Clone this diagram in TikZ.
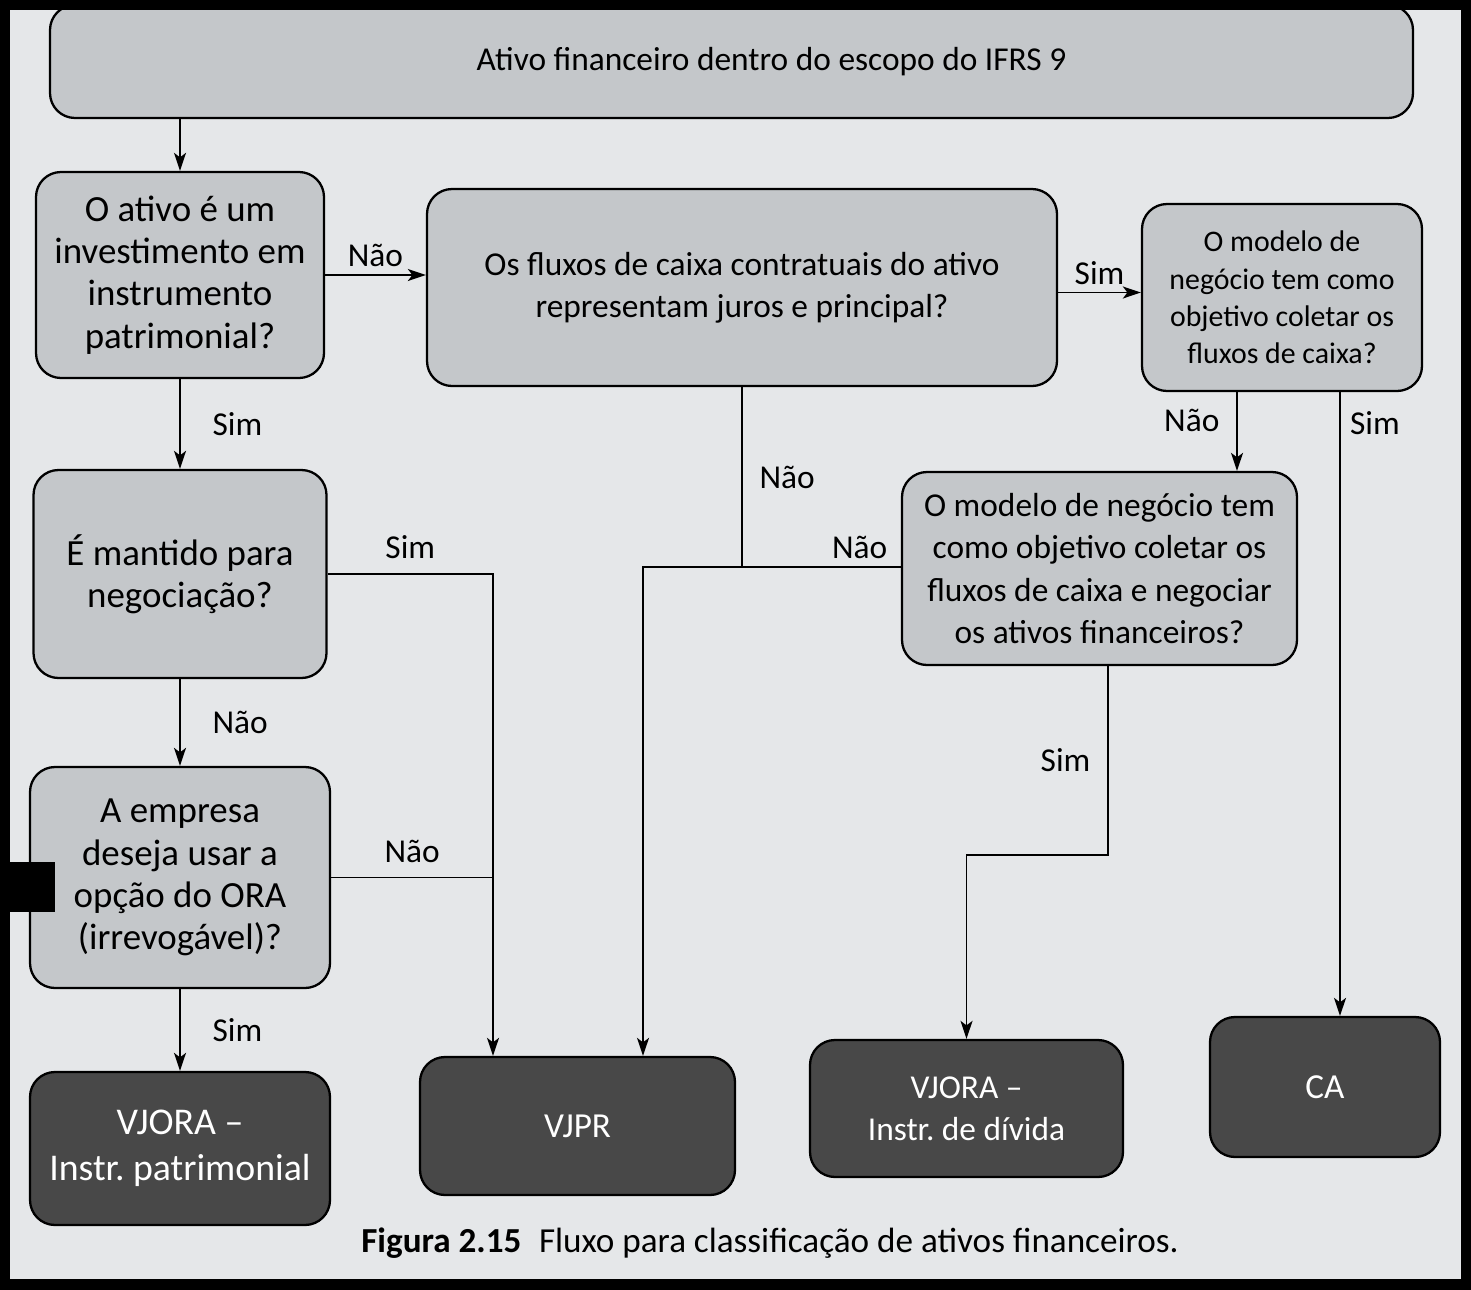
\documentclass[tikz,border=0pt]{standalone}
\usepackage{fontspec}
\setmainfont{Carlito}
\usetikzlibrary{calc,positioning,arrows.meta,shapes}
\definecolor{papel}{RGB}{229,231,233}
\definecolor{caixa}{RGB}{196,199,202}
\definecolor{escuro}{RGB}{72,72,72}
\tikzset{
  >={Stealth[length=3.6mm, width=2.4mm, inset=0.9mm]},
  pergunta/.style={
    rectangle,
    rounded corners=0.5cm,
    fill=caixa,
    draw=black, line width=1.3pt,
    align=center,
    inner sep=0pt,
    font=\fontsize{19}{24}\selectfont},
  grande/.style={font=\fontsize{21}{24}\selectfont},
  pequena/.style={font=\fontsize{17}{21.3}\selectfont},
  resultado/.style={
    rectangle,
    rounded corners=0.5cm,
    fill=escuro,
    draw=black, line width=1.3pt,
    text=white,
    align=center,
    inner sep=0pt,
    font=\fontsize{20}{25}\selectfont},
  line/.style={draw, line width=1pt, ->},
  rotulo/.style={font=\fontsize{19}{22}\selectfont, inner sep=1pt},
}

\begin{document}
\frenchspacing
\begin{tikzpicture}
  \useasboundingbox (0,0) rectangle (29.42,-25.78);
  \fill[papel] (0,0) rectangle (29.42,-25.78);
  % entrada
  \node[pergunta, minimum width=27.26cm, minimum height=2.26cm] (ativo) at (14.63,-1.23)
    {\hspace*{1.6cm}Ativo financeiro dentro do escopo do IFRS 9};
  % perguntas
  \node[pergunta, grande, minimum width=5.76cm, minimum height=4.12cm] (instr) at (3.6,-5.5)
    {O ativo é um\\investimento em\\instrumento\\patrimonial?};
  \node[pergunta, minimum width=12.6cm, minimum height=3.94cm] (fluxos) at (14.84,-5.75)
    {Os fluxos de caixa contratuais do ativo\\representam juros e principal?};
  \node[pergunta, pequena, minimum width=5.6cm, minimum height=3.74cm] (coletar) at (25.64,-5.95)
    {O modelo de\\negócio tem como\\objetivo coletar os\\fluxos de caixa?};
  \node[pergunta, grande, minimum width=5.86cm, minimum height=4.16cm] (negoc) at (3.6,-11.48)
    {É mantido para\\negociação?};
  \node[pergunta, minimum width=7.9cm, minimum height=3.86cm] (colneg) at (21.99,-11.37)
    {O modelo de negócio tem\\como objetivo coletar os\\fluxos de caixa e negociar\\os ativos financeiros?};
  \node[pergunta, grande, minimum width=6.0cm, minimum height=4.42cm] (opcao) at (3.6,-17.55)
    {A empresa\\deseja usar a\\opção do ORA\\(irrevogável)?};
  % resultados
  \node[resultado, font=\fontsize{21.5}{26}\selectfont, minimum width=6.0cm, minimum height=3.06cm] (vjorap) at (3.6,-22.97)
    {VJORA –\\Instr. patrimonial};
  \node[resultado, minimum width=6.3cm, minimum height=2.76cm] (vjpr) at (11.55,-22.52)
    {VJPR};
  \node[resultado, font=\fontsize{19}{24}\selectfont, minimum width=6.26cm, minimum height=2.74cm] (vjorad) at (19.33,-22.17)
    {VJORA –\\Instr. de dívida};
  \node[resultado, minimum width=4.6cm, minimum height=2.8cm] (ca) at (26.5,-21.74)
    {CA};
  % legenda
  \node[font=\fontsize{20}{24}\selectfont] (legenda) at (15.4,-24.86)
    {\textbf{Figura 2.15}\enspace Fluxo para classificação de ativos financeiros.};

  % pontos de junção
  \coordinate (jn) at (12.86,-11.34);
  \coordinate (js) at (9.86,-11.48);
  \coordinate (jq) at (22.16,-17.1);
  \coordinate (cn) at ($(coletar.south)+(-0.9,0)$);
  \coordinate (cs) at ($(coletar.south)+(1.16,0)$);

  % ligações
  \path[line] (ativo.south -| instr.north) -- (instr.north);
  \path[line] (instr.east) -- node[rotulo, above=3pt] (n1) {Não} (instr.east -| fluxos.west);
  \path[line] (instr.south) -- node[rotulo, right=0.6cm] (s1) {Sim} (negoc.north);
  \path[line] (fluxos.east |- 0,-5.85) -- node[rotulo, above=3pt] (s2) {Sim} (coletar.west |- 0,-5.85);
  \draw[line width=1pt] (fluxos.south) -- node[rotulo, right=0.3cm] (n2) {Não} (fluxos.south |- jn);
  \path[line] (colneg.west |- jn) -- node[rotulo, pos=0.16, above=3pt] (n5) {Não} (jn) -- (jn |- vjpr.north);
  \path[line] (cn) -- node[rotulo, pos=0.36, left=0.3cm] (n3) {Não} (cn |- colneg.north);
  \path[line] (cs) -- node[rotulo, pos=0.05, right=0.15cm] (s3) {Sim} (cs |- ca.north);
  \path[line] (negoc.east) -- node[rotulo, above=0.25cm] (s4) {Sim} (js) -- (js |- vjpr.north);
  \path[line] (negoc.south) -- node[rotulo, right=0.6cm] (n4) {Não} (opcao.north);
  \draw[line width=1pt] (opcao.east) -- node[rotulo, above=0.25cm] (n6) {Não} (opcao.east -| js);
  \path[line] (opcao.south) -- node[rotulo, right=0.6cm] (s6) {Sim} (vjorap.north);
  \path[line] (colneg.south -| jq) -- node[rotulo, left=0.3cm] (s5) {Sim} (jq)
    -- (jq -| vjorad.north) -- (vjorad.north);

  % moldura
  \fill[black] (0,-17.24) rectangle (1.1,-18.24);
  \draw[black, line width=0.4cm] (0,0) rectangle (29.42,-25.78);
\end{tikzpicture}
\end{document}
